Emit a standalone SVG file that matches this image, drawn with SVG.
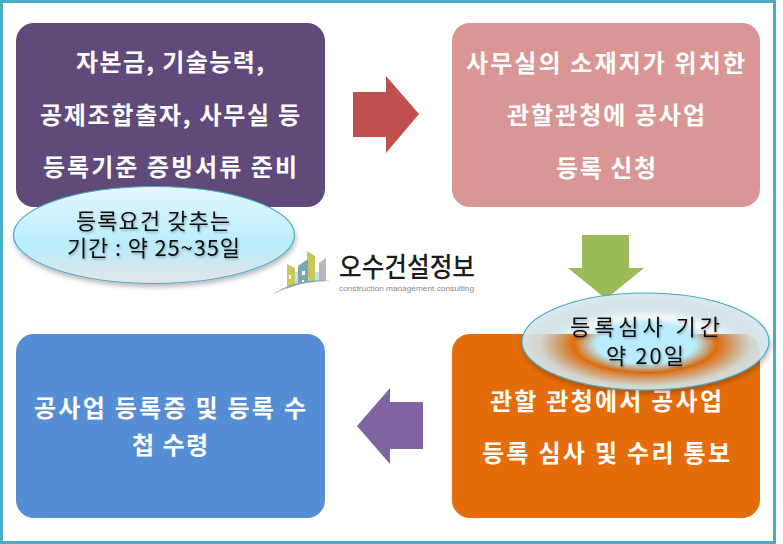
<svg xmlns="http://www.w3.org/2000/svg" width="783" height="544" viewBox="0 0 783 544">
<style>
.w{font-family:"Noto Sans CJK KR","Liberation Sans",sans-serif;font-size:24px;font-weight:700;fill:#fff}
.k{font-family:"Noto Sans CJK KR","Liberation Sans",sans-serif;font-size:22px;fill:#111}
.o{stroke:#4bacc6;stroke-width:1.2}
</style>
<defs>
<linearGradient id="g1" x1="0" y1="0" x2="0" y2="1"><stop offset="0" stop-color="#e2f8ff"/><stop offset=".62" stop-color="#b9ecfd"/><stop offset="1" stop-color="#e4e6e6"/></linearGradient>
<radialGradient id="g2" cx=".5" cy=".53" r=".5"><stop offset="0" stop-color="#b9ecfd"/><stop offset=".4" stop-color="#b9ecfd"/><stop offset=".58" stop-color="#b9ecfd" stop-opacity="0"/><stop offset=".85" stop-color="#d6e4e8" stop-opacity=".85"/><stop offset="1" stop-color="#d6e8ec" stop-opacity=".95"/></radialGradient>
<filter id="sh" x="-10%" y="-10%" width="120%" height="125%"><feDropShadow dx="1" dy="3" stdDeviation="2.500" flood-color="#000" flood-opacity=".28"/></filter>
<filter id="ts" x="-5%" y="-20%" width="110%" height="150%"><feDropShadow dx="1" dy="1.500" stdDeviation="1" flood-color="#000" flood-opacity=".3"/></filter>
<clipPath id="city"><path d="M280 245H330V281C314 280 299 283 285 290H280Z"/></clipPath>
</defs>
<rect width="783" height="544" fill="#fff"/>
<rect x="1.500" y="1.500" width="773" height="541" fill="#fff" stroke="#4bacc6" stroke-width="3"/>
<g id="node-capital"><rect x="16" y="23" width="309" height="184" rx="18" fill="#604a7b"/>
<text class="w" x="76" y="71" textLength="188">자본금, 기술능력,</text><text class="w" x="40" y="124" textLength="260">공제조합출자, 사무실 등</text><text class="w" x="43" y="176" textLength="254">등록기준 증빙서류 준비</text></g>
<g id="node-apply"><rect x="452" y="23" width="308" height="184" rx="18" fill="#d99694"/>
<text class="w" x="466" y="72" textLength="279">사무실의 소재지가 위치한</text><text class="w" x="507" y="124" textLength="198">관할관청에 공사업</text><text class="w" x="556" y="177" textLength="100">등록 신청</text></g>
<g id="node-review"><rect x="452" y="334" width="308" height="184" rx="18" fill="#e46c0a"/>
<text class="w" x="490" y="410" textLength="232">관할 관청에서 공사업</text><text class="w" x="482" y="462" textLength="248">등록 심사 및 수리 통보</text></g>
<g id="node-receive"><rect x="16" y="334" width="309" height="184" rx="18" fill="#558ed5"/>
<text class="w" x="34" y="417" textLength="272">공사업 등록증 및 등록 수</text><text class="w" x="132" y="454" textLength="76">첩 수령</text></g>
<g id="connectors">
<path d="M353 92H386V76L419 114L386 153V137H353Z" fill="#c0504d"/>
<path d="M582 235H629V268H644L606 299L568 268H582Z" fill="#9bbb59"/>
<path d="M423 402H390V388L357 426L390 464V449H423Z" fill="#8064a2"/>
</g>
<g id="note-period1"><ellipse cx="154" cy="235" rx="140.500" ry="48.500" class="o" fill="url(#g1)" filter="url(#sh)"/>
<text class="k" x="76" y="229" textLength="154" filter="url(#ts)">등록요건 갖추는</text><text class="k" x="67" y="256" textLength="173" filter="url(#ts)">기간 : 약 25~35일</text></g>
<g id="logo">
<g clip-path="url(#city)">
<path d="M294 272H320V295H294Z" fill="#c5e2ea"/>
<path d="M287 264L295 268V295H287Z" fill="#c9c65a"/>
<path d="M307 251L315 256V295H307Z" fill="#c9c65a"/>
<path d="M298 266L308 259V295H298Z" fill="#7ba6b3"/>
<path d="M319 263L326 258V295H319Z" fill="#b5b8bc"/>
<path d="M289 275h2v4h-2zM302 271h3v4h-3zM302 280h2v3h-2z" fill="#fff"/>
</g>
<path d="M272 295C288 283 310 278 331 281C310 281 290 285 272 295Z" fill="#8aa6ad"/>
<text x="339" y="277" font-family="'Noto Sans CJK KR',sans-serif" font-size="27" font-weight="500" fill="#1c1c1c" textLength="136" lengthAdjust="spacingAndGlyphs">오수건설정보</text>
<text x="339" y="291" font-family="'Liberation Sans',sans-serif" font-size="8" fill="#8a8a8a" textLength="135" lengthAdjust="spacingAndGlyphs">construction management consulting</text>
</g>
<g id="note-period2"><ellipse cx="645.500" cy="341.500" rx="123.500" ry="48.500" class="o" fill="url(#g2)" filter="url(#sh)"/>
<text class="k" x="570" y="335" textLength="150" filter="url(#ts)">등록심사 기간</text><text class="k" x="606" y="364" textLength="78" filter="url(#ts)">약 20일</text></g>
</svg>
